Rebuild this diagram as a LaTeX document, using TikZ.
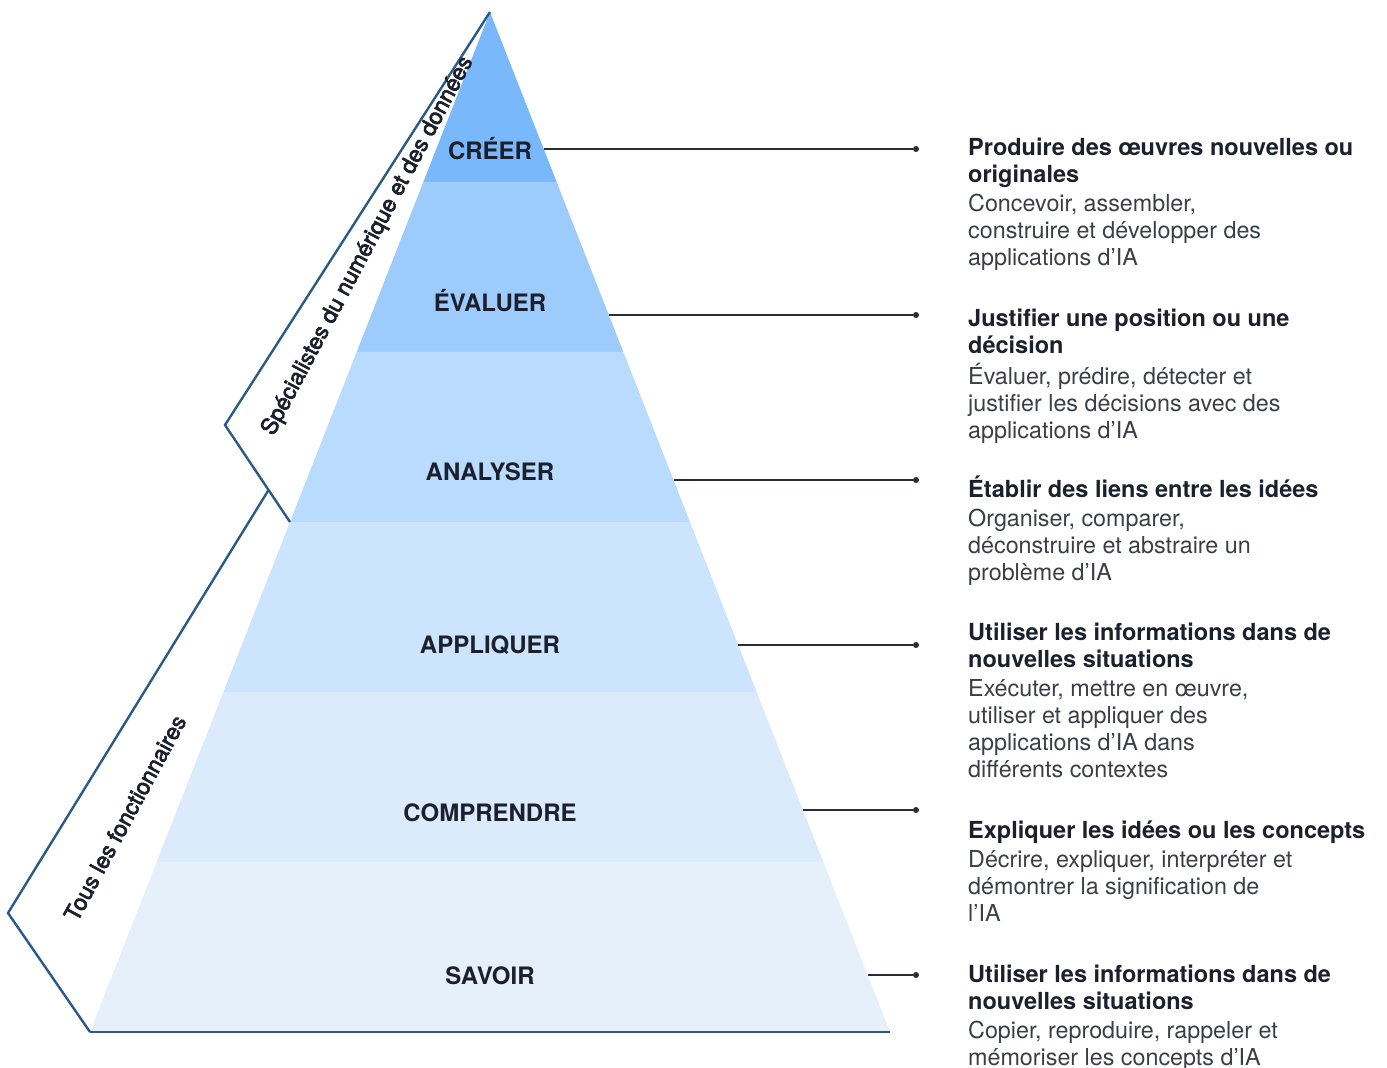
\documentclass[tikz,border=0pt]{standalone}
\usepackage{fontspec}
\setmainfont{TeX Gyre Heros}
\newfontfamily\sidefont{TeX Gyre Heros}[FakeBold=3]
\usetikzlibrary{calc}

% band fills, from the top of the pyramid down
\definecolor{lvA}{HTML}{79B8FB}
\definecolor{lvB}{HTML}{9DCBFC}
\definecolor{lvC}{HTML}{B9DBFD}
\definecolor{lvD}{HTML}{CCE4FD}
\definecolor{lvE}{HTML}{DBEBFC}
\definecolor{lvF}{HTML}{E6F0FB}
\definecolor{frame}{HTML}{2B5A87}
\definecolor{inkdark}{HTML}{1B202C}
\definecolor{inkbody}{HTML}{3A3E47}
\definecolor{rule}{HTML}{2A2D33}

\newcommand{\headtxt}[1]{{\fontsize{23.5}{27}\selectfont\bfseries\color{inkdark}#1}}

\tikzset{
  level/.style={font=\fontsize{24}{28}\selectfont\bfseries, text=inkdark, inner sep=0pt},
  desc/.style={font=\fontsize{23.3}{27}\selectfont, text=inkbody, inner sep=0pt, anchor=base west},
  tip/.style={circle, fill=rule, inner sep=0pt, minimum size=6pt},
  conn/.style={draw=rule, line width=1.1pt},
  bracket/.style={draw=frame, line width=2.4pt, line join=miter},
  side/.style={font=\sidefont\fontsize{22.6}{26}\selectfont, text=inkdark, inner sep=0pt}
}

\begin{document}
\begin{tikzpicture}[x=1pt, y=-1pt]
\useasboundingbox (0,0) rectangle (1387,1068);

% pyramid corners
\coordinate (apex) at (490,12);
\coordinate (bl) at (90,1032);
\coordinate (br) at (890,1032);

% six horizontal bands
\foreach \a/\b/\c in {0/1/lvA, 1/2/lvB, 2/3/lvC, 3/4/lvD, 4/5/lvE, 5/6/lvF}{
  \fill[\c] ($(apex)!\a/6!(bl)$) -- ($(apex)!\b/6!(bl)$)
           -- ($(apex)!\b/6!(br)$) -- ($(apex)!\a/6!(br)$) -- cycle;
}

% level names
\node[level] (creer) at (490,149) {CRÉER};
\node[level] (evaluer) at (490,301) {ÉVALUER};
\node[level] (analyser) at (490,472) {ANALYSER};
\node[level] (appliquer) at (490,645) {APPLIQUER};
\node[level] (comprendre) at (490,813) {COMPRENDRE};
\node[level] (savoir) at (490,976) {SAVOIR};

% audience brackets on the left
\coordinate (k1) at (225,425);
\coordinate (k1end) at ($(apex)!3/6!(bl)$);
\coordinate (k2start) at ($(k1)!0.67!(k1end)$);
\coordinate (k2) at (8,913);
\draw[bracket] (apex) -- (k1) -- (k1end);
\draw[bracket] (k2start) -- (k2) -- (bl);
\draw[bracket] (bl) -- (br);

\node[side, rotate=62] (spec) at (368,246) {Spécialistes du numérique et des données};
\node[side, rotate=61.5] (tous) at (125,818) {Tous les fonctionnaires};

% leader lines from the right edge to the descriptions
\foreach \n/\y/\x in {1/149/543.7, 2/315/608.8, 3/480/673.5, 4/645/738.2, 5/810/802.9, 6/975/867.6}{
  \coordinate (e\n) at (\x,\y);
  \node[tip] (d\n) at (916,\y) {};
  \draw[conn] (e\n) -- (d\n);
}

% descriptions
\node[desc] (t1) at (968,155) {\begin{tabular}[t]{@{}l@{}}
\headtxt{Produire des œuvres nouvelles ou}\\
\headtxt{originales}\\[2pt]
Concevoir, assembler,\\
construire et développer des\\
applications d’IA\end{tabular}};

\node[desc] (t2) at (968,326) {\begin{tabular}[t]{@{}l@{}}
\headtxt{Justifier une position ou une}\\
\headtxt{décision}\\[2pt]
Évaluer, prédire, détecter et\\
justifier les décisions avec des\\
applications d’IA\end{tabular}};

\node[desc] (t3) at (968,497) {\begin{tabular}[t]{@{}l@{}}
\headtxt{Établir des liens entre les idées}\\[2pt]
Organiser, comparer,\\
déconstruire et abstraire un\\
problème d’IA\end{tabular}};

\node[desc] (t4) at (968,640) {\begin{tabular}[t]{@{}l@{}}
\headtxt{Utiliser les informations dans de}\\
\headtxt{nouvelles situations}\\[2pt]
Exécuter, mettre en œuvre,\\
utiliser et appliquer des\\
applications d’IA dans\\
différents contextes\end{tabular}};

\node[desc] (t5) at (968,838) {\begin{tabular}[t]{@{}l@{}}
\headtxt{Expliquer les idées ou les concepts}\\[2pt]
Décrire, expliquer, interpréter et\\
démontrer la signification de\\
l’IA\end{tabular}};

\node[desc] (t6) at (968,982) {\begin{tabular}[t]{@{}l@{}}
\headtxt{Utiliser les informations dans de}\\
\headtxt{nouvelles situations}\\[2pt]
Copier, reproduire, rappeler et\\
mémoriser les concepts d’IA\end{tabular}};
\end{tikzpicture}
\end{document}
